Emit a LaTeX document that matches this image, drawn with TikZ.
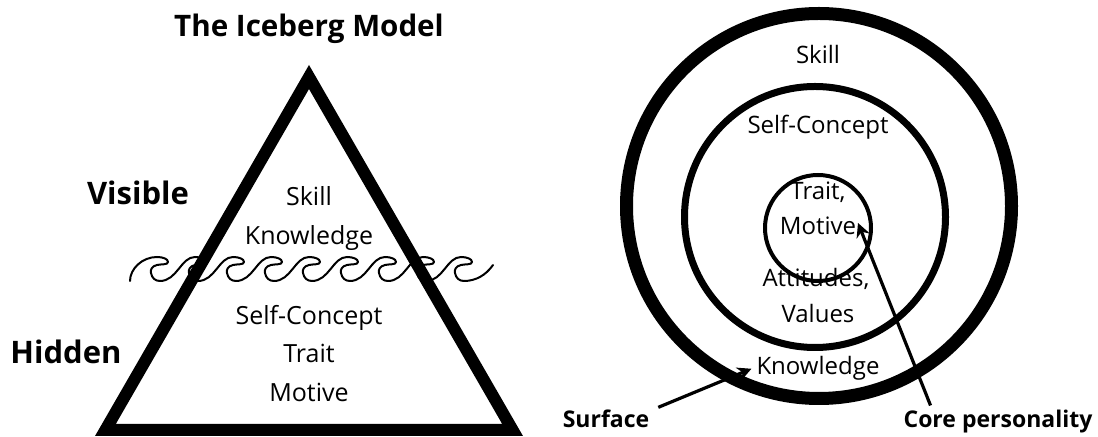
\documentclass[tikz,border=0pt]{standalone}
\usepackage{fontspec}
\setmainfont{Open Sans}
\usetikzlibrary{arrows.meta}
\tikzset{
    iceberg/.style={line width=6pt, line join=miter},
    wave/.style={line width=1pt, line cap=round, line join=round},
    body/.style={anchor=base, font=\fontsize{12.5}{15}\selectfont},
    ringtext/.style={anchor=base, font=\fontsize{12}{14}\selectfont},
    heading/.style={anchor=base, font=\fontsize{14.8}{17}\selectfont\bfseries},
    side/.style={anchor=base, font=\fontsize{15.5}{18}\selectfont\bfseries},
    tag/.style={anchor=base, font=\fontsize{11.5}{14}\selectfont\bfseries},
    pointer/.style={line width=1.6pt, -{Stealth[length=7pt, width=7pt]}}
}

\begin{document}
\begin{tikzpicture}[x=0.5pt, y=-0.5pt]

    \useasboundingbox (0,0) rectangle (1098,437);

    % Configuration
    \def\waveX{130}    % left end of the waves
    \def\waveY{257}    % crest height of the waves
    \def\period{38}    % width of one wave

    % 1. Iceberg triangle
    \draw[iceberg] (309,77) -- (512.6,430) -- (105.4,430) -- cycle;

    \node[heading] (title) at (309,37) {The Iceberg Model};
    \node[side] (visible) at (138,205) {Visible};
    \node[side] (hidden) at (66,364) {Hidden};

    \node[body] (skillT) at (309,206) {Skill};
    \node[body] (knowT) at (309,245) {Knowledge};
    \node[body] (selfT) at (309,325) {Self-Concept};
    \node[body] (traitT) at (309,363) {Trait};
    \node[body] (motiveT) at (309,402) {Motive};

    % 2. Water line
    \draw[wave] (\waveX, \waveY+24) .. controls (\waveX, \waveY+12) and (\waveX+12, \waveY) .. (\waveX+27, \waveY);
    \foreach \k in {0,...,8} {
        \pgfmathsetmacro{\cx}{\waveX + 27 + \k*\period}
        % crest curling over into a small hook
        \draw[wave] (\cx, \waveY) .. controls (\cx+6, \waveY) and (\cx+11, \waveY+2) .. (\cx+11, \waveY+5)
            .. controls (\cx+11, \waveY+8) and (\cx+4, \waveY+7) .. (\cx, \waveY+8)
            .. controls (\cx-5, \waveY+9) and (\cx-7, \waveY+13) .. (\cx-6, \waveY+16)
            .. controls (\cx-5, \waveY+21) and (\cx-2, \waveY+24) .. (\cx+3, \waveY+24);
        % rising flank towards the next crest
        \ifnum\k<8
            \draw[wave] (\cx+3, \waveY+24) .. controls (\cx+20, \waveY+24) and (\cx+24, \waveY) .. (\cx+38, \waveY);
        \else
            \draw[wave] (\cx+3, \waveY+24) .. controls (\cx+15, \waveY+24) and (\cx+25, \waveY+18) .. (\cx+32, \waveY+8);
        \fi
    }

    % 3. Competency rings
    \draw[line width=6.5pt] (819,206) circle[radius=96.25pt];
    \draw[line width=3.5pt] (815,217) circle[radius=65.25pt];
    \draw[line width=2pt] (818,228) circle[radius=26.5pt];

    \node[ringtext] (skillC) at (818,64) {Skill};
    \node[ringtext] (selfC) at (818,134) {Self-Concept};
    \node[ringtext] (traitC) at (818,200) {Trait,};
    \node[ringtext] (motiveC) at (818,235) {Motive};
    \node[ringtext] (attC) at (816,287) {Attitudes,};
    \node[ringtext] (valC) at (818,323) {Values};
    \node[ringtext] (knowC) at (818,375) {Knowledge};

    % 4. Labels and arrows
    \node[tag] (surface) at (606,428) {Surface};
    \node[tag] (core) at (998,428) {Core personality};
    \coordinate (coreTip) at (858,223);

    \draw[pointer] ([xshift=1pt, yshift=-2pt]surface.north east) -- ([xshift=1pt]knowC.west);
    \draw[pointer] ([xshift=17pt, yshift=-1pt]core.north west) -- (coreTip);

\end{tikzpicture}
\end{document}
